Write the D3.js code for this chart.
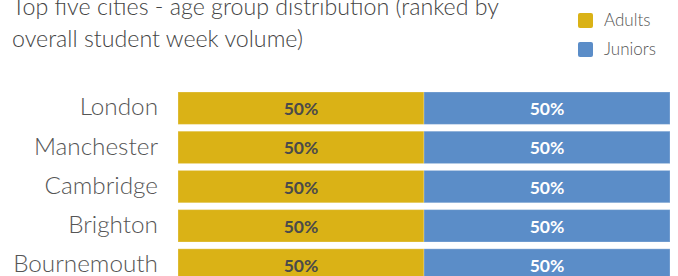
<!DOCTYPE html>
<html>
<head>
<meta charset="utf-8">
<script src="https://cdn.jsdelivr.net/npm/d3@7"></script>
<style>
  body { margin: 0; background: #fff; }
  svg { display: block; }
</style>
</head>
<body>
<svg id="chart" width="678" height="276"></svg>
<script>
var cities = ["London", "Manchester", "Cambridge", "Brighton", "Bournemouth"];
var adults = [50, 50, 50, 50, 50];
var juniors = [50, 50, 50, 50, 50];
var seriesNames = ["Adults", "Juniors"];
var seriesColors = ["#dab216", "#5b8dc8"];
var titleLines = ["Top five cities - age group distribution (ranked by", "overall student week volume)"];

var svg = d3.select("#chart");
var font = "Lato, 'Open Sans', sans-serif";

//title
var title = svg.append("g").attr("id", "title")
   .selectAll("text")
   .data(titleLines)
   .enter()
   .append("text")
   .attr("x", 12)
   .attr("y", function(d, i){ return 15 + i*32; })
   .style("font-family", font)
   .style("font-weight", 300)
   .style("font-size", "24px")
   .style("fill", "#444")
   .text(function(d){ return d; });
// size the title so the second line spans about 291px like the original
var w2 = title.nodes()[1].getComputedTextLength();
title.style("font-size", (24 * 291 / w2) + "px");

//scales
var xScale = d3.scaleLinear().domain([0, 100]).range([178, 670]);
var yScale = d3.scaleBand()
               .domain(cities)
               .range([92, 281.2])
               .paddingInner(0.174)
               .paddingOuter(0);

//stack data
var rows = cities.map(function(c, i){
  return {city: c, Adults: adults[i], Juniors: juniors[i]};
});
var stack = d3.stack().keys(seriesNames)(rows);

var layers = svg.append("g").attr("id", "bars")
   .selectAll("g")
   .data(stack)
   .enter()
   .append("g")
   .attr("fill", function(d, i){ return seriesColors[i]; });

layers.selectAll("rect")
   .data(function(d){ return d; })
   .enter()
   .append("rect")
   .attr("x", function(d){ return xScale(d[0]); })
   .attr("y", function(d){ return yScale(d.data.city); })
   .attr("width", function(d){ return xScale(d[1]) - xScale(d[0]); })
   .attr("height", yScale.bandwidth())
   .attr("stroke", "rgba(255,255,255,0.25)")
   .attr("stroke-width", 1);

//value labels
layers.selectAll("text")
   .data(function(d){ return d; })
   .enter()
   .append("text")
   .attr("x", function(d){ return (xScale(d[0]) + xScale(d[1]))/2; })
   .attr("y", function(d){ return yScale(d.data.city) + yScale.bandwidth()/2 + 7; })
   .attr("text-anchor", "middle")
   .style("font-family", font)
   .style("font-weight", 700)
   .style("font-size", "17.5px")
   .style("fill", function(){
      return d3.select(this.parentNode).datum().key == "Adults" ? "#4a4a4a" : "#fff";
   })
   .text(function(d){ return (d[1] - d[0]) + "%"; });

//category axis
var yAxis = d3.axisLeft(yScale).tickSize(0).tickPadding(0);
var yx = svg.append("g")
   .attr("id", "yaxis")
   .attr("transform", "translate(158, 0)")
   .call(yAxis);
yx.select(".domain").remove();
yx.selectAll("text")
   .attr("dy", "0.3em")
   .style("font-family", font)
   .style("font-weight", 300)
   .style("font-size", "24.3px")
   .style("fill", "#555");

//legend
var legend = svg.append("g").attr("id", "legend")
   .selectAll("g")
   .data(seriesNames)
   .enter()
   .append("g")
   .attr("transform", function(d, i){ return "translate(578," + (13 + i*29) + ")"; });
legend.append("rect")
   .attr("width", 15)
   .attr("height", 15)
   .attr("rx", 2)
   .attr("fill", function(d, i){ return seriesColors[i]; });
legend.append("text")
   .attr("x", 26)
   .attr("y", 13)
   .style("font-family", font)
   .style("font-weight", 300)
   .style("font-size", "17px")
   .style("fill", "#555")
   .text(function(d){ return d; });
</script>
</body>
</html>
